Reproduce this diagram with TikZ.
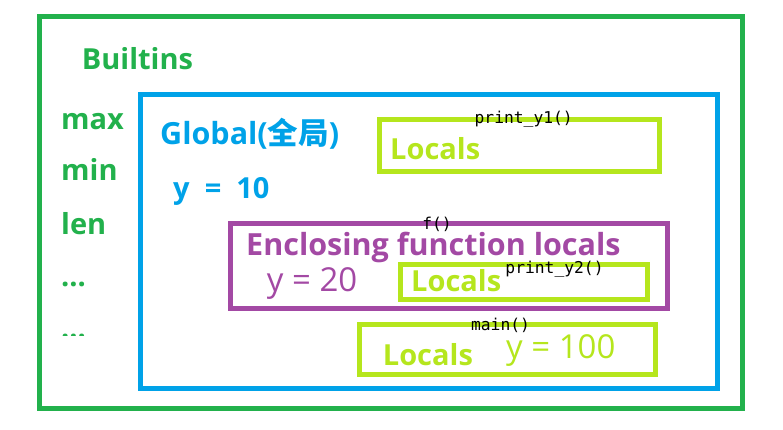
\documentclass[tikz,border=0pt]{standalone}
\usepackage{fontspec}
\setmainfont{Open Sans}
\setmonofont{DejaVu Sans Mono}
\newfontfamily\cjk{Noto Sans CJK SC}
\usetikzlibrary{positioning}
\definecolor{bgreen}{HTML}{22B14C}
\definecolor{gblue}{HTML}{00A2E8}
\definecolor{llime}{HTML}{B5E61D}
\definecolor{epurple}{HTML}{A349A4}
\tikzset{
    scopebox/.style={draw,line width=5pt,inner sep=0pt,outer sep=0pt},
    heading/.style={font=\fontsize{29}{34}\selectfont\bfseries,inner sep=0pt,anchor=base west},
    bigheading/.style={heading,font=\fontsize{30.5}{36}\selectfont\bfseries},
    plain/.style={font=\fontsize{33}{38}\selectfont,inner sep=0pt,anchor=base west},
    fname/.style={font=\fontsize{16.3}{18}\selectfont\ttfamily,inner sep=0pt}
}

\begin{document}
\begin{tikzpicture}[x=1pt,y=-1pt]
    \useasboundingbox (0,0) rectangle (783,430);
    % scopes, outer to inner
    \node[scopebox,draw=bgreen,minimum width=703pt,minimum height=392pt] (builtins) at (391,212.5) {};
    \node[scopebox,draw=gblue,minimum width=577pt,minimum height=293.3pt] (global) at (429,241.35) {};
    \node[scopebox,draw=llime,minimum width=280pt,minimum height=51.5pt] (py1) at (519.5,145.75) {};
    \node[scopebox,draw=epurple,minimum width=437pt,minimum height=85pt] (encl) at (449,265.5) {};
    \node[scopebox,draw=llime,minimum width=247.5pt,minimum height=34.5pt] (py2) at (523.75,281.75) {};
    \node[scopebox,draw=llime,minimum width=296pt,minimum height=50pt] (mainb) at (507.5,349) {};

    % builtins
    \node[heading,text=bgreen] (btitle) at (81.7,69.3) {Builtins};
    \node[heading,text=bgreen] (bmax) at (61,130) {max};
    \node[heading,text=bgreen] (bmin) at (61,180.7) {min};
    \node[heading,text=bgreen] (blen) at (61,234.3) {len};
    \node[heading,text=bgreen] (bdots) at (61,286) {...};
    \begin{scope}
        \clip (50,300) rectangle (100,335);
        \node[heading,text=bgreen] (bmore) at (61,338) {...};
    \end{scope}

    % global
    \node[bigheading,text=gblue] (gtitle) at (160,145) {Global({\cjk 全局})};
    \node[heading,text=gblue] (gy) at (173,199) {y \ = \ 10};

    % enclosing + locals
    \node[heading,text=llime] (l1) at (390,160) {Locals};
    \node[bigheading,text=epurple] (etitle) at (246,255) {Enclosing function locals};
    \node[plain,text=epurple] (ey) at (266.7,291.7) {y = 20};
    \node[heading,text=llime] (l2) at (411,291.7) {Locals};
    \node[heading,text=llime] (l3) at (382.7,365) {Locals};
    \node[plain,text=llime] (my) at (506,358.3) {y = 100};

    % function names
    \node[fname,xshift=4.2pt,yshift=0.8pt] (f1) at (py1.north) {print\_y1()};
    \node[fname,xshift=-12pt,yshift=-1pt] (f2) at (encl.north) {f()};
    \node[fname,xshift=30.75pt,yshift=-4.3pt] (f3) at (py2.north) {print\_y2()};
    \node[fname,xshift=-7pt,yshift=-1.5pt] (f4) at (mainb.north) {main()};
\end{tikzpicture}
\end{document}
